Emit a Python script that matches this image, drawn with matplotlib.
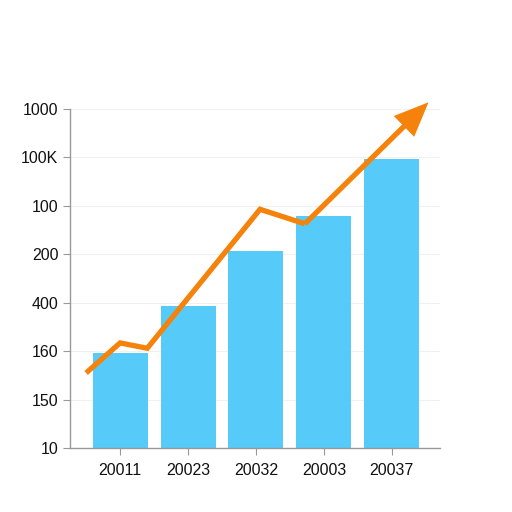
import matplotlib
matplotlib.use("Agg")
import matplotlib.pyplot as plt

plt.rcParams['font.family'] = ['Liberation Sans', 'DejaVu Sans']

years = ['20011', '20023', '20032', '20003', '20037']
bar_values = [1.96, 2.93, 4.07, 4.79, 5.97]
y_labels = ['10', '150', '160', '400', '200', '100', '100K', '1000']

line_x = [-0.50, 0.0, 0.40, 2.06, 2.72, 4.54]
line_y = [1.55, 2.17, 2.06, 4.93, 4.63, 7.14]

bar_color = '#56CBF9'
line_color = '#F5820A'

fig = plt.figure(figsize=(5.12, 5.12), dpi=100)
ax = fig.add_axes([0.137, 0.125, 0.722, 0.662])

x = list(range(len(years)))
ax.bar(x, bar_values, width=0.81, color=bar_color, zorder=2)

# line body, last segment drawn as an arrow
ax.plot(line_x[:-1], line_y[:-1], color=line_color, lw=3.8,
        solid_joinstyle='miter', solid_capstyle='butt', zorder=3)
ax.annotate('', xy=(line_x[-1], line_y[-1]), xytext=(line_x[-2], line_y[-2]),
            arrowprops=dict(arrowstyle='-|>,head_length=0.9,head_width=0.38',
                            mutation_scale=20, lw=3.8, color=line_color,
                            joinstyle='miter', capstyle='butt',
                            shrinkA=0, shrinkB=0),
            annotation_clip=False, zorder=4)

ax.set_xlim(-0.735, 4.706)
ax.set_ylim(0, 7)
ax.set_xticks(x)
ax.set_xticklabels(years)
ax.set_yticks(range(len(y_labels)))
ax.set_yticklabels(y_labels)

ax.grid(axis='y', color='#f0f0f0', lw=0.8, zorder=0)
for s in ['top', 'right']:
    ax.spines[s].set_visible(False)
for s in ['left', 'bottom']:
    ax.spines[s].set_color('#999999')
    ax.spines[s].set_linewidth(1.0)
ax.tick_params(colors='#999999', labelcolor='#111111', labelsize=11.5, length=5)
ax.tick_params(axis='x', pad=6)

fig.savefig('out.png', dpi=100)
